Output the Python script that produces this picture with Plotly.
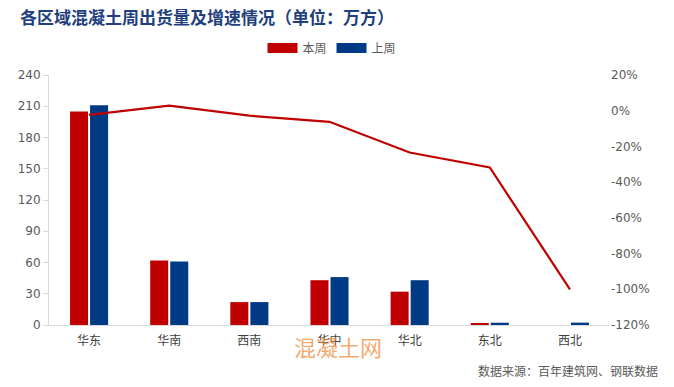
import plotly.graph_objects as go

categories = ["华东", "华南", "西南", "华中", "华北", "东北", "西北"]
this_week = [205, 62, 22, 43, 32, 1.5, 0]
last_week = [211, 61, 22, 46, 43, 2.2, 2.3]
growth_pct = [-2.3, 2.8, -2.8, -6.2, -23.4, -31.8, -100]

left_ticks = [0, 30, 60, 90, 120, 150, 180, 210, 240]
right_ticks = [-120, -100, -80, -60, -40, -20, 0, 20]
right_tick_text = [f"{v}%" for v in right_ticks]

RED = "#C00000"
BLUE = "#003A84"
GRAY = "#595959"
CJK = "Noto Sans CJK SC"

W, H = 674, 387
L, R, T, B = 49, 64, 75, 62
pw = W - L - R
ph = H - T - B

fig = go.Figure()
fig.add_trace(go.Bar(x=categories, y=this_week, name="本周", marker_color=RED,
                     marker_line_width=0, yaxis="y", showlegend=False))
fig.add_trace(go.Bar(x=categories, y=last_week, name="上周", marker_color=BLUE,
                     marker_line_width=0, yaxis="y", showlegend=False))
fig.add_trace(go.Scatter(x=categories, y=growth_pct, name="增速", mode="lines",
                         line=dict(color=RED, width=2.2), yaxis="y2",
                         showlegend=False))
# legend entries drawn as wide rectangles
fig.add_trace(go.Scatter(x=[None], y=[None], name="本周", mode="lines",
                         line=dict(color=RED, width=10), yaxis="y"))
fig.add_trace(go.Scatter(x=[None], y=[None], name="上周", mode="lines",
                         line=dict(color=BLUE, width=10), yaxis="y"))

fig.update_layout(
    width=W, height=H,
    margin=dict(l=L, r=R, t=T, b=B),
    paper_bgcolor="white", plot_bgcolor="white",
    barmode="group", bargap=0.5, bargroupgap=0.1,
    font=dict(family="DejaVu Sans", size=11, color=GRAY),
    legend=dict(orientation="h", x=(332 - L) / pw, xanchor="center",
                y=(H - B - 48) / ph, yanchor="middle",
                font=dict(family=CJK, size=12, color=GRAY),
                traceorder="normal", itemwidth=30),
    xaxis=dict(showline=True, linecolor="#D9D9D9", linewidth=1, ticks="",
               tickfont=dict(family=CJK, size=12, color="#404040"),
               ticklabelstandoff=5,
               showgrid=False, zeroline=False),
    yaxis=dict(range=[0, 240], tickvals=left_ticks, showline=True,
               linecolor="#D9D9D9", linewidth=1, ticks="outside", ticklen=5,
               tickcolor="#D9D9D9", showgrid=False, zeroline=False,
               tickfont=dict(size=12, color=GRAY)),
    yaxis2=dict(range=[-120, 20], tickmode="array", tickvals=right_ticks,
                ticktext=right_tick_text,
                overlaying="y", side="right", showgrid=False, zeroline=False,
                showline=False, ticks="", tickfont=dict(size=12, color=GRAY)),
)

anns = [
    dict(text="<b>各区域混凝土周出货量及增速情况（单位：万方）</b>",
         px=18, py=16, xanchor="left",
         font=dict(family=CJK, size=17, color="#1F3F7F")),
    dict(text="混凝土网", px=338, py=346, xanchor="center",
         font=dict(family=CJK, size=22, color="rgba(240,140,60,0.75)")),
    dict(text="数据来源：百年建筑网、钢联数据", px=660, py=370, xanchor="right",
         font=dict(family=CJK, size=12, color=GRAY)),
]
for a in anns:
    fig.add_annotation(text=a["text"], x=(a["px"] - L) / pw,
                       y=(H - B - a["py"]) / ph,
                       xref="paper", yref="paper", showarrow=False,
                       xanchor=a["xanchor"], yanchor="middle", font=a["font"])

fig.write_html("out.html",
               config={"displayModeBar": False},
               post_script="document.body.style.margin='0';document.body.style.padding='0';")
